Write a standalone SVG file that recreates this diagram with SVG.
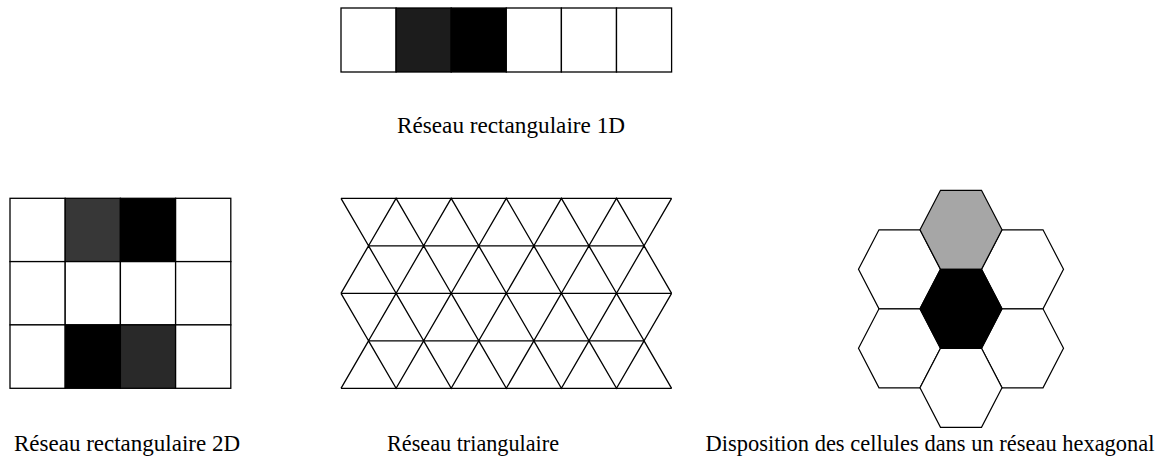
<svg xmlns="http://www.w3.org/2000/svg" xmlns:xlink="http://www.w3.org/1999/xlink" width="1170" height="457" viewBox="0 0 1170 457">
<style>
.cell{stroke:#000;stroke-width:1.3;}
.tri{fill:none;stroke:#000;stroke-width:1.3;stroke-linejoin:miter;}
.hex{stroke:#000;stroke-width:1.2;}
.lbl{font-family:"Liberation Serif","Times New Roman",serif;font-size:23px;fill:#000;}
</style>
<defs>
<polygon id="hx" points="-20.5,-39.5 20.5,-39.5 41,0 20.5,39.5 -20.5,39.5 -41,0"/>
</defs>
<rect width="1170" height="457" fill="#fff"/>

<g id="grid1d">
<rect class="cell" x="341" y="8" width="55.1" height="64" fill="#fff"/>
<rect class="cell" x="396.1" y="8" width="55.1" height="64" fill="#1c1c1c"/>
<rect class="cell" x="451.2" y="8" width="55.1" height="64" fill="#000"/>
<rect class="cell" x="506.3" y="8" width="55.1" height="64" fill="#fff"/>
<rect class="cell" x="561.4" y="8" width="55.1" height="64" fill="#fff"/>
<rect class="cell" x="616.5" y="8" width="55.1" height="64" fill="#fff"/>
</g>

<g id="grid2d">
<rect class="cell" x="10" y="198.3" width="55.2" height="63.3" fill="#fff"/>
<rect class="cell" x="65.2" y="198.3" width="55.2" height="63.3" fill="#373737"/>
<rect class="cell" x="120.4" y="198.3" width="55.2" height="63.3" fill="#000"/>
<rect class="cell" x="175.6" y="198.3" width="55.2" height="63.3" fill="#fff"/>
<rect class="cell" x="10" y="261.6" width="55.2" height="63.3" fill="#fff"/>
<rect class="cell" x="65.2" y="261.6" width="55.2" height="63.3" fill="#fff"/>
<rect class="cell" x="120.4" y="261.6" width="55.2" height="63.3" fill="#fff"/>
<rect class="cell" x="175.6" y="261.6" width="55.2" height="63.3" fill="#fff"/>
<rect class="cell" x="10" y="324.9" width="55.2" height="63.4" fill="#fff"/>
<rect class="cell" x="65.2" y="324.9" width="55.2" height="63.4" fill="#000"/>
<rect class="cell" x="120.4" y="324.9" width="55.2" height="63.4" fill="#292929"/>
<rect class="cell" x="175.6" y="324.9" width="55.2" height="63.4" fill="#fff"/>
</g>

<g id="triangular">
<path class="tri" d="M341,198.3H671.6 M368.55,245.8H644.05 M341,293.3H671.6 M368.55,340.8H644.05 M341,388.3H671.6"/>
<polyline class="tri" points="341,198.3 368.55,245.8 396.1,198.3 423.65,245.8 451.2,198.3 478.75,245.8 506.3,198.3 533.85,245.8 561.4,198.3 588.95,245.8 616.5,198.3 644.05,245.8 671.6,198.3"/>
<polyline class="tri" points="341,293.3 368.55,245.8 396.1,293.3 423.65,245.8 451.2,293.3 478.75,245.8 506.3,293.3 533.85,245.8 561.4,293.3 588.95,245.8 616.5,293.3 644.05,245.8 671.6,293.3"/>
<polyline class="tri" points="341,293.3 368.55,340.8 396.1,293.3 423.65,340.8 451.2,293.3 478.75,340.8 506.3,293.3 533.85,340.8 561.4,293.3 588.95,340.8 616.5,293.3 644.05,340.8 671.6,293.3"/>
<polyline class="tri" points="341,388.3 368.55,340.8 396.1,388.3 423.65,340.8 451.2,388.3 478.75,340.8 506.3,388.3 533.85,340.8 561.4,388.3 588.95,340.8 616.5,388.3 644.05,340.8 671.6,388.3"/>
</g>

<g id="hexagonal">
<use href="#hx" xlink:href="#hx" class="hex" fill="#fff" x="899.5" y="269.3"/>
<use href="#hx" xlink:href="#hx" class="hex" fill="#fff" x="1022.5" y="269.3"/>
<use href="#hx" xlink:href="#hx" class="hex" fill="#fff" x="899.5" y="348.3"/>
<use href="#hx" xlink:href="#hx" class="hex" fill="#fff" x="1022.5" y="348.3"/>
<use href="#hx" xlink:href="#hx" class="hex" fill="#fff" x="961" y="387.8"/>
<use href="#hx" xlink:href="#hx" class="hex" fill="#a6a6a6" x="961" y="229.8"/>
<use href="#hx" xlink:href="#hx" class="hex" fill="#000" x="961" y="308.8"/>
</g>

<g id="labels">
<text class="lbl" x="511" y="133" text-anchor="middle" textLength="228" lengthAdjust="spacingAndGlyphs">Réseau rectangulaire 1D</text>
<text class="lbl" x="127" y="451" text-anchor="middle" textLength="226" lengthAdjust="spacingAndGlyphs">Réseau rectangulaire 2D</text>
<text class="lbl" x="473" y="451" text-anchor="middle" textLength="172" lengthAdjust="spacingAndGlyphs">Réseau triangulaire</text>
<text class="lbl" x="930" y="451" text-anchor="middle" textLength="449" lengthAdjust="spacingAndGlyphs">Disposition des cellules dans un réseau hexagonal</text>
</g>
</svg>
